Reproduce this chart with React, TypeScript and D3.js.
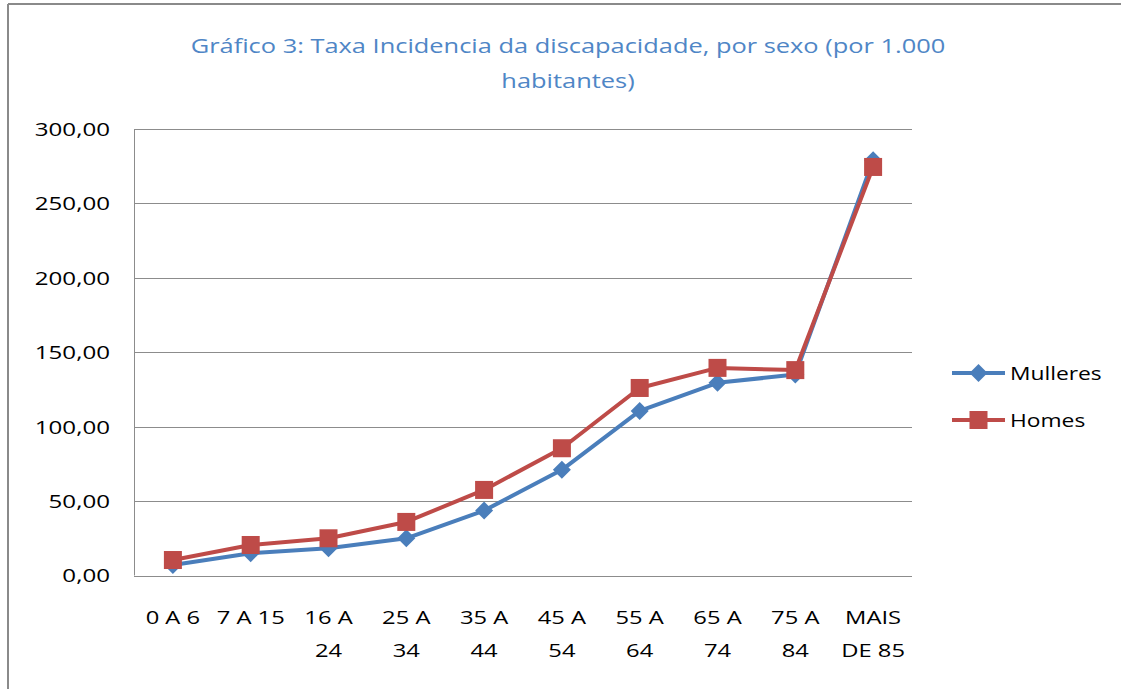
import React from "react";
import * as d3 from "d3";

const categories = ["0 A 6", "7 A 15", "16 A 24", "25 A 34", "35 A 44", "45 A 54", "55 A 64", "65 A 74", "75 A 84", "MAIS DE 85"];
const categoryLines = [["0 A 6"], ["7 A 15"], ["16 A", "24"], ["25 A", "34"], ["35 A", "44"], ["45 A", "54"], ["55 A", "64"], ["65 A", "74"], ["75 A", "84"], ["MAIS", "DE 85"]];
const mulleres = [7, 15, 18.3, 25, 43.6, 71, 110.6, 129.5, 135, 279];
const homes = [10.4, 20.5, 25, 36, 57.5, 85.5, 126, 139.5, 138, 274.5];
const yTicks = [0, 50, 100, 150, 200, 250, 300];
const seriesNames = ["Mulleres", "Homes"];
const titleLines = ["Gráfico 3: Taxa Incidencia da discapacidade, por sexo (por 1.000", "habitantes)"];

const W = 1121, H = 689;
const plot = { left: 134, right: 912, top: 129, bottom: 575.5 };
const BLUE = "#4A7EBB", RED = "#BE4B48";
const FONT = "'Open Sans', Lato, sans-serif";

const stretch = (ax: number, s: number) => `translate(${ax},0) scale(${s},1) translate(${-ax},0)`;

export default function App() {
  const x = d3.scaleBand<string>().domain(categories).range([plot.left, plot.right]);
  const y = d3.scaleLinear().domain([0, 300]).range([plot.bottom, plot.top]);
  const cx = (c: string) => (x(c) ?? 0) + x.bandwidth() / 2;
  const line = d3.line<number>().x((_, i) => cx(categories[i])).y((v) => y(v));
  const fmt = (v: number) => d3.format(".2f")(v).replace(".", ",");

  const diamond = (px: number, py: number, r: number) => `M${px},${py - r}L${px + r},${py}L${px},${py + r}L${px - r},${py}Z`;

  return (
    <svg width={W} height={H} style={{ position: "absolute", left: 0, top: 0, background: "#fff" }} fontFamily={FONT} fontWeight={400}>
      <rect x={0} y={0} width={W} height={H} fill="#fff" />
      {/* frame */}
      <line x1={8} y1={4} x2={8} y2={H} stroke="#8a8a8a" strokeWidth={2} />
      <line x1={8} y1={4} x2={W} y2={4} stroke="#8a8a8a" strokeWidth={2} />
      {/* title */}
      {titleLines.map((t, i) => (
        <text key={i} x={568} y={53 + i * 35} textAnchor="middle" fontSize={20} fill="#4F86C6" transform={stretch(568, 1.27)}>{t}</text>
      ))}
      {/* gridlines */}
      {yTicks.map((t) => (
        <line key={t} x1={plot.left} x2={plot.right} y1={Math.round(y(t)) + 0.5} y2={Math.round(y(t)) + 0.5} stroke="#8c8c8c" strokeWidth={1} />
      ))}
      <line x1={plot.left + 0.5} x2={plot.left + 0.5} y1={plot.top} y2={plot.bottom} stroke="#8c8c8c" strokeWidth={1} />
      {/* y labels */}
      {yTicks.map((t) => (
        <text key={t} x={110} y={y(t) + 7} textAnchor="end" fontSize={19} fill="#000" transform={stretch(110, 1.27)}>{fmt(t)}</text>
      ))}
      {/* x labels */}
      {categories.map((c, i) => (
        <g key={c}>
          {categoryLines[i].map((l, j) => (
            <text key={j} x={cx(c)} y={624 + j * 33} textAnchor="middle" fontSize={19} fill="#000" transform={stretch(cx(c), 1.25)}>{l}</text>
          ))}
        </g>
      ))}
      {/* series */}
      <path d={line(mulleres) ?? ""} fill="none" stroke={BLUE} strokeWidth={4} strokeLinejoin="round" />
      {mulleres.map((v, i) => (
        <path key={i} d={diamond(cx(categories[i]), y(v), 9)} fill={BLUE} />
      ))}
      <path d={line(homes) ?? ""} fill="none" stroke={RED} strokeWidth={4} strokeLinejoin="round" />
      {homes.map((v, i) => (
        <rect key={i} x={cx(categories[i]) - 9} y={y(v) - 9} width={18} height={18} fill={RED} />
      ))}
      {/* legend */}
      {seriesNames.map((n, i) => {
        const ly = 373 + i * 47;
        return (
          <g key={n}>
            <line x1={952} x2={1005} y1={ly} y2={ly} stroke={i === 0 ? BLUE : RED} strokeWidth={4} />
            {i === 0 ? <path d={diamond(978.5, ly, 9)} fill={BLUE} /> : <rect x={969.5} y={ly - 9} width={18} height={18} fill={RED} />}
            <text x={1010} y={ly + 7} fontSize={19} fill="#000" transform={stretch(1010, 1.2)}>{n}</text>
          </g>
        );
      })}
    </svg>
  );
}
